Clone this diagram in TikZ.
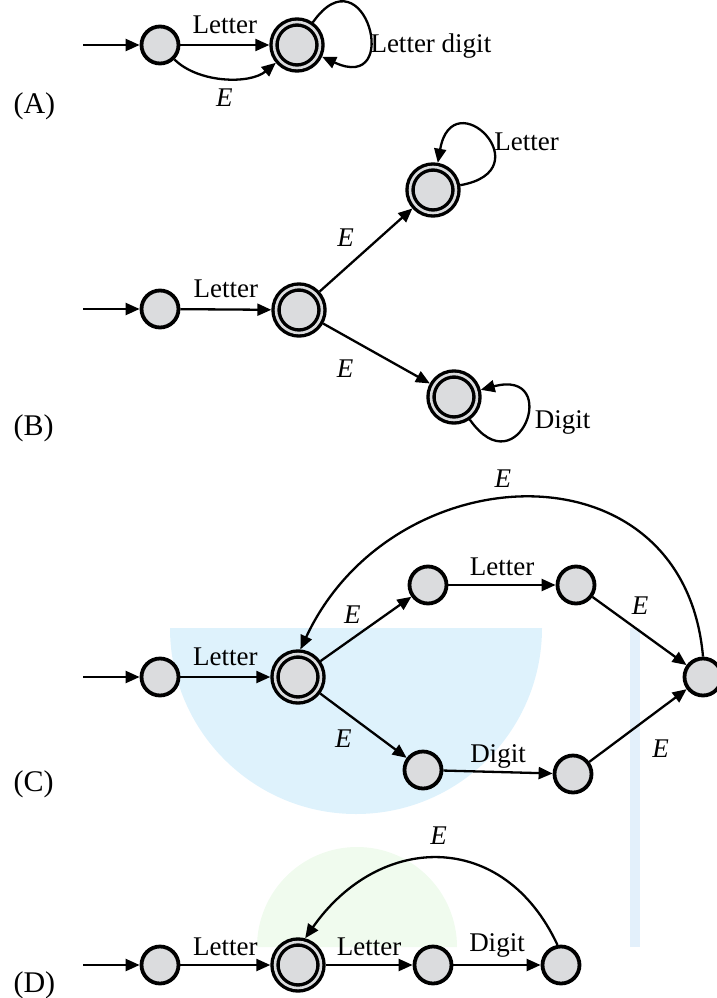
\documentclass[tikz,border=0pt]{standalone}
\usepackage{fontspec}
\setmainfont{Liberation Serif}
\usepackage{xcolor}
\usetikzlibrary{arrows.meta}

\definecolor{statefill}{RGB}{219,220,222}
\definecolor{bluepatch}{RGB}{222,242,252}
\definecolor{stripblue}{RGB}{227,240,251}
\definecolor{greenpatch}{RGB}{240,251,238}

\begin{document}
\begin{tikzpicture}[x=1pt,y=1pt,
  state/.style={circle,draw=black,fill=statefill,line width=3.8pt,minimum size=37pt,inner sep=0pt},
  accept/.style={circle,draw=black,fill=statefill,line width=3.4pt,double=statefill,double distance=2.6pt,minimum size=46pt,inner sep=0pt,outer sep=4.7pt},
  trans/.style={line width=2.3pt,-{Triangle[length=14pt,width=12pt]}},
  lbl/.style={font=\fontsize{27}{32}\selectfont},
  elbl/.style={font=\fontsize{27}{32}\selectfont\itshape},
  panel/.style={font=\fontsize{30}{36}\selectfont,anchor=west}]
\useasboundingbox (0,0) rectangle (717,-998);

\fill[bluepatch] (170,-628) arc[start angle=180,end angle=360,radius=186] -- cycle;
\fill[stripblue] (630,-628) rectangle (640,-947);
\fill[greenpatch] (257,-947) arc[start angle=180,end angle=0,radius=100] -- cycle;

% (A)
\node[panel] (pa) at (10,-106) {(A)};
\coordinate (a0) at (83,-45);
\node[state] (a1) at (160,-45) {};
\node[accept] (a2) at (297,-45) {};
\draw[trans] (a0) -- (a1);
\draw[trans] (a1) -- node[lbl,above=7pt] {Letter} (a2);
\draw[trans] (a1) to[out=-45,in=-140,looseness=0.85] node[elbl,below=6pt] {E} (a2);
\draw[trans] (a2) to[out=55,in=-25,distance=90pt] node[lbl,pos=0.65,right=-2pt] {Letter digit} (a2);

% (B)
\node[panel] (pb) at (10,-428) {(B)};
\coordinate (b0) at (83,-309);
\node[state] (b1) at (160,-309) {};
\node[accept] (b2) at (299,-310) {};
\node[accept] (b3) at (433,-190) {};
\node[accept] (b4) at (454,-397) {};
\draw[trans] (b0) -- (b1);
\draw[trans] (b1) -- node[lbl,above=7pt] {Letter} (b2);
\draw[trans] (b2) -- node[elbl,pos=0.45,above left=3pt] {E} (b3);
\draw[trans] (b2) -- node[elbl,pos=0.4,below left=8pt] {E} (b4);
\draw[trans] (b3) to[out=10,in=80,distance=85pt] node[lbl,pos=0.45,right] {Letter} (b3);
\draw[trans] (b4) to[out=-55,in=15,distance=85pt] node[lbl,right=6pt] {Digit} (b4);

% (C)
\node[panel] (pc) at (10,-784) {(C)};
\coordinate (c0) at (83,-677);
\node[state] (c1) at (160,-677) {};
\node[accept] (c2) at (298,-677) {};
\node[state] (c3) at (428,-585) {};
\node[state] (c4) at (576,-585) {};
\node[state] (c5) at (423,-770) {};
\node[state] (c6) at (573,-774) {};
\node[state] (c7) at (703,-677) {};
\draw[trans] (c0) -- (c1);
\draw[trans] (c1) -- node[lbl,above=7pt] {Letter} (c2);
\draw[trans] (c2) -- node[elbl,above left=1pt] {E} (c3);
\draw[trans] (c2) -- node[elbl,pos=0.45,below left=3pt] {E} (c5);
\draw[trans] (c3) -- node[lbl,above=5pt] {Letter} (c4);
\draw[trans] (c5) -- node[lbl,above=-1pt] {Digit} (c6);
\draw[trans] (c4) -- node[elbl,pos=0.35,above right=2pt] {E} (c7);
\draw[trans] (c6) -- node[elbl,below right=10pt] {E} (c7);
\draw[trans] (c7.north) to[out=95,in=65,looseness=1.38] node[elbl,pos=0.55,above=8pt] {E} (c2.85);

% (D)
\node[panel] (pd) at (10,-985) {(D)};
\coordinate (d0) at (83,-965);
\node[state] (d1) at (160,-965) {};
\node[accept] (d2) at (298,-965) {};
\node[state] (d3) at (433,-965) {};
\node[state] (d4) at (561,-965) {};
\draw[trans] (d0) -- (d1);
\draw[trans] (d1) -- node[lbl,above=5pt] {Letter} (d2);
\draw[trans] (d2) -- node[lbl,above=5pt] {Letter} (d3);
\draw[trans] (d3) -- node[lbl,above=3pt] {Digit} (d4);
\draw[trans] (d4.100) to[out=115,in=55,looseness=1.3] node[elbl,above=10pt] {E} (d2.75);
\end{tikzpicture}
\end{document}
